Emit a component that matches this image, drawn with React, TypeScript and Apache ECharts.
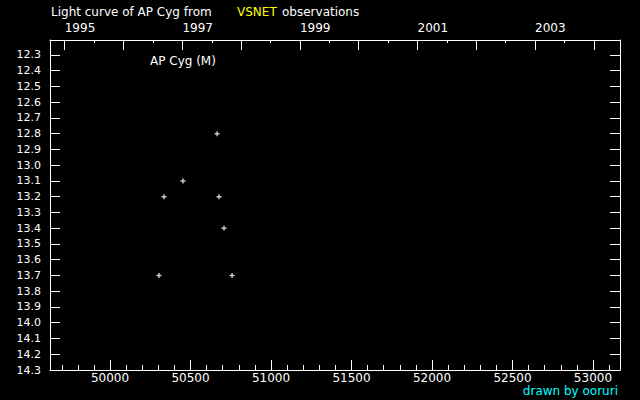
import React, { useEffect, useRef } from "react";
import * as echarts from "echarts";

// ---- data ----
const obsJD = [50304, 50335, 50453, 50665, 50677, 50708, 50758];
const obsMag = [13.7, 13.2, 13.1, 12.8, 13.2, 13.4, 13.7];

const magTicks = [
  12.3, 12.4, 12.5, 12.6, 12.7, 12.8, 12.9, 13.0, 13.1, 13.2, 13.3,
  13.4, 13.5, 13.6, 13.7, 13.8, 13.9, 14.0, 14.1, 14.2, 14.3,
];
const jdMajorTicks = [50000, 50500, 51000, 51500, 52000, 52500, 53000];
const jdMinorTicks = [
  49700, 49800, 49900, 50100, 50200, 50300, 50400, 50600, 50700, 50800, 50900,
  51100, 51200, 51300, 51400, 51600, 51700, 51800, 51900, 52100, 52200, 52300,
  52400, 52600, 52700, 52800, 52900, 53100,
];
const yearNames = [1995, 1996, 1997, 1998, 1999, 2000, 2001, 2002, 2003, 2004];
const yearStarts = [
  49718.5, 50083.5, 50449.5, 50814.5, 51179.5, 51544.5, 51910.5, 52275.5,
  52640.5, 53005.5,
];
const yearLabelled = [1995, 1997, 1999, 2001, 2003];
const halfYears = [49901, 50266, 50632, 50997, 51362, 51727.5, 52093, 52458, 52823];

const jdMin = 49627;
const jdMax = 53168;
const magMin = 12.205;
const magMax = 14.3;

const titleParts = ["Light curve of AP Cyg from", "VSNET", "observations"];
const starLabel = "AP Cyg (M)";
const credit = "drawn by ooruri";

const FONT = "DejaVu Sans";
const PLUS = "path://M1.8,0H3.2V1.8H5V3.2H3.2V5H1.8V3.2H0V1.8H1.8Z";

export default function App() {
  const ref = useRef<HTMLDivElement>(null);
  useEffect(() => {
    document.body.style.margin = "0";
    const chart = echarts.init(ref.current!, null, { renderer: "svg" });
    const white = "#ffffff";
    const labelledJD = yearLabelled.map((y) => yearStarts[yearNames.indexOf(y)]);
    const baseX = { type: "value", min: jdMin, max: jdMax, splitLine: { show: false } };
    chart.setOption({
      animation: false,
      backgroundColor: "#000000",
      grid: { left: 50, top: 40, width: 570, height: 330, containLabel: false, outerBoundsMode: "none", show: false },
      xAxis: [
        {
          ...baseX,
          position: "bottom",
          axisLine: { show: true, lineStyle: { color: white, width: 1 } },
          axisTick: { show: true, inside: true, length: 10, lineStyle: { color: white }, customValues: jdMajorTicks },
          axisLabel: { show: true, color: white, fontFamily: FONT, fontSize: 12, lineHeight: 10, margin: 3, customValues: jdMajorTicks, formatter: (v: number) => String(Math.round(v)) },
        },
        {
          ...baseX,
          position: "top",
          axisLine: { show: true, lineStyle: { color: white, width: 1 } },
          axisTick: { show: true, inside: true, length: 10, lineStyle: { color: white }, customValues: yearStarts },
          axisLabel: {
            show: true, color: white, fontFamily: FONT, fontSize: 12, margin: 6, align: "left",
            customValues: labelledJD,
            formatter: (v: number) => {
              let best = 0;
              yearStarts.forEach((s, i) => { if (Math.abs(s - v) < Math.abs(yearStarts[best] - v)) best = i; });
              return String(yearNames[best]);
            },
          },
        },
        {
          ...baseX,
          position: "bottom",
          axisLine: { show: false },
          axisTick: { show: true, inside: true, length: 5, lineStyle: { color: white }, customValues: jdMinorTicks },
          axisLabel: { show: false },
        },
        {
          ...baseX,
          position: "top",
          axisLine: { show: false },
          axisTick: { show: true, inside: true, length: 3, lineStyle: { color: white }, customValues: halfYears },
          axisLabel: { show: false },
        },
      ],
      yAxis: [
        {
          type: "value", inverse: true, min: magMin, max: magMax, position: "left",
          splitLine: { show: false },
          axisLine: { show: true, lineStyle: { color: white, width: 1 } },
          axisTick: { show: true, inside: true, length: 10, lineStyle: { color: white }, customValues: magTicks },
          axisLabel: { show: true, color: white, fontFamily: FONT, fontSize: 11, margin: 9, customValues: magTicks, formatter: (v: number) => v.toFixed(1) },
        },
        {
          type: "value", inverse: true, min: magMin, max: magMax, position: "right",
          splitLine: { show: false },
          axisLine: { show: true, lineStyle: { color: white, width: 1 } },
          axisTick: { show: true, inside: true, length: 10, lineStyle: { color: white }, customValues: magTicks },
          axisLabel: { show: false },
        },
      ],
      series: [
        {
          type: "scatter",
          xAxisIndex: 0,
          yAxisIndex: 0,
          symbol: PLUS,
          symbolSize: 5,
          itemStyle: { color: white },
          data: obsJD.map((x, i) => [x, obsMag[i]]),
        },
      ],
      graphic: [
        { type: "text", x: 51, y: 12, style: { text: titleParts[0], fill: white, font: `12px "${FONT}"`, verticalAlign: "middle" } },
        { type: "text", x: 237, y: 12, style: { text: titleParts[1], fill: "#ffff00", font: `12px "${FONT}"`, verticalAlign: "middle" } },
        { type: "text", x: 282, y: 12, style: { text: titleParts[2], fill: white, font: `12px "${FONT}"`, verticalAlign: "middle" } },
        { type: "text", x: 150, y: 61, style: { text: starLabel, fill: white, font: `12px "${FONT}"`, verticalAlign: "middle" } },
        { type: "text", x: 618, y: 391, style: { text: credit, fill: "#00ffff", font: `12px "${FONT}"`, lineHeight: 10, align: "right", verticalAlign: "middle" } },
      ],
    });
    return () => chart.dispose();
  }, []);
  return <div ref={ref} style={{ position: "fixed", left: 0, top: 0, width: 640, height: 400 }} />;
}
